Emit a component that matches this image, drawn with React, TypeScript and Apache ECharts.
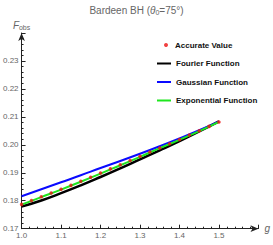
import React, { useEffect, useRef } from "react";
import * as echarts from "echarts";

const dotX = [1.0, 1.025, 1.05, 1.075, 1.1, 1.125, 1.15, 1.175, 1.2, 1.225, 1.25, 1.275, 1.3, 1.325, 1.35, 1.375, 1.4, 1.425, 1.45, 1.475, 1.5];
const accurate = [0.1787, 0.1801, 0.1814, 0.1828, 0.1841, 0.1855, 0.187, 0.1884, 0.1899, 0.1914, 0.1929, 0.1944, 0.1959, 0.1974, 0.1989, 0.2004, 0.2019, 0.2035, 0.205, 0.2066, 0.2082];
const lineX = [1.0, 1.05, 1.1, 1.15, 1.2, 1.25, 1.3, 1.35, 1.4, 1.45, 1.5];
const fourier = [0.1779, 0.1801, 0.1827, 0.1855, 0.1885, 0.1916, 0.1948, 0.198, 0.2013, 0.2048, 0.2084];
const gaussian = [0.1816, 0.1841, 0.1866, 0.1891, 0.1917, 0.1942, 0.1968, 0.1995, 0.2023, 0.2052, 0.2084];
const exponential = [0.1786, 0.1813, 0.184, 0.1868, 0.1897, 0.1927, 0.1957, 0.1988, 0.2018, 0.2049, 0.2082];

const FONT = "'Liberation Sans Narrow', 'Liberation Sans', Arial, sans-serif";
const GRAY = "#666";

export default function App() {
  const ref = useRef<HTMLDivElement>(null);
  useEffect(() => {
    if (!ref.current) return;
    const chart = echarts.init(ref.current, null, { renderer: "svg" });
    const zip = (xs: number[], ys: number[]) => xs.map((x, i) => [x, ys[i]]);
    chart.setOption({
      animation: false,
      title: {
        text: "Bardeen BH ({it|θ}{sub|0}=75°)",
        left: "center",
        top: 4,
        padding: 0,
        textStyle: {
          fontFamily: FONT,
          fontSize: 10,
          fontWeight: "normal",
          color: GRAY,
          rich: {
            it: { fontFamily: FONT, fontSize: 10, fontStyle: "italic", color: GRAY },
            sub: { fontFamily: FONT, fontSize: 7, color: GRAY, verticalAlign: "bottom", padding: [5, 0, 0, 0] },
          },
        },
      },
      legend: [
        {
          data: [{ name: "Accurate Value", icon: "circle" }],
          orient: "vertical",
          left: 164,
          top: 41,
          padding: 0,
          itemWidth: 8,
          itemHeight: 4,
          textStyle: { fontFamily: FONT, fontSize: 8, fontWeight: "bold", color: "#111" },
        },
        {
          data: [
            { name: "Fourier Function", icon: "rect" },
            { name: "Gaussian Function", icon: "rect" },
            { name: "Exponential Function", icon: "rect" },
          ],
          orient: "vertical",
          left: 157,
          top: 58.5,
          padding: 0,
          itemGap: 8.5,
          itemWidth: 14,
          itemHeight: 2,
          textStyle: { fontFamily: FONT, fontSize: 8, fontWeight: "bold", color: "#111", lineHeight: 10 },
        },
      ],
      grid: { left: 17, right: 13.5, top: 33, bottom: 16.3, containLabel: false },
      xAxis: {
        type: "value",
        min: 1.0,
        max: 1.6,
        interval: 0.1,
        name: "g",
        nameLocation: "end",
        nameGap: 6,
        nameTextStyle: { fontFamily: FONT, fontSize: 10, fontStyle: "italic", color: GRAY, verticalAlign: "middle" },
        axisLine: { lineStyle: { color: "#222", width: 1 }, symbol: ["none", "arrow"], symbolSize: [5, 8] },
        axisTick: { inside: true, length: 4, lineStyle: { color: "#222" } },
        minorTick: { show: true, splitNumber: 5, length: 2, lineStyle: { color: "#222" } },
        splitLine: { show: false },
        axisLabel: {
          fontFamily: FONT,
          fontSize: 8,
          color: GRAY,
          margin: 3,
          formatter: (v: number) => (v > 1.55 ? "" : v.toFixed(1)),
        },
      },
      yAxis: {
        type: "value",
        min: 0.17,
        max: 0.24,
        interval: 0.01,
        name: "{it|F}{sub|obs}",
        nameLocation: "end",
        nameGap: 2,
        nameTextStyle: {
          fontFamily: FONT,
          fontSize: 10,
          color: GRAY,
          rich: {
            it: { fontFamily: FONT, fontSize: 10, fontStyle: "italic", color: GRAY },
            sub: { fontFamily: FONT, fontSize: 7, color: GRAY, verticalAlign: "bottom", padding: [5, 0, 0, 0] },
          },
        },
        axisLine: { show: true, lineStyle: { color: "#222", width: 1 }, symbol: ["none", "arrow"], symbolSize: [5, 8] },
        axisTick: { show: true, inside: true, length: 4, lineStyle: { color: "#222" } },
        minorTick: { show: true, splitNumber: 5, length: 2, lineStyle: { color: "#222" } },
        splitLine: { show: false },
        axisLabel: {
          fontFamily: FONT,
          fontSize: 8,
          color: GRAY,
          margin: 3,
          formatter: (v: number) => (v > 0.235 ? "" : v.toFixed(2)),
        },
      },
      series: [
        {
          name: "Fourier Function",
          type: "line",
          data: zip(lineX, fourier),
          smooth: true,
          showSymbol: false,
          lineStyle: { color: "#000", width: 2.5 },
          itemStyle: { color: "#000" },
          z: 1,
        },
        {
          name: "Gaussian Function",
          type: "line",
          data: zip(lineX, gaussian),
          smooth: true,
          showSymbol: false,
          lineStyle: { color: "#0a0aff", width: 2 },
          itemStyle: { color: "#0a0aff" },
          z: 2,
        },
        {
          name: "Exponential Function",
          type: "line",
          data: zip(lineX, exponential),
          smooth: true,
          showSymbol: false,
          lineStyle: { color: "#1ee61e", width: 2 },
          itemStyle: { color: "#1ee61e" },
          z: 3,
        },
        {
          name: "Accurate Value",
          type: "scatter",
          data: zip(dotX, accurate),
          symbol: "circle",
          symbolSize: 3.5,
          itemStyle: { color: "#ee1111" },
          z: 4,
        },
      ],
    });
    return () => chart.dispose();
  }, []);
  return <div ref={ref} style={{ width: 273, height: 245, position: "absolute", left: 0, top: 0 }} />;
}
